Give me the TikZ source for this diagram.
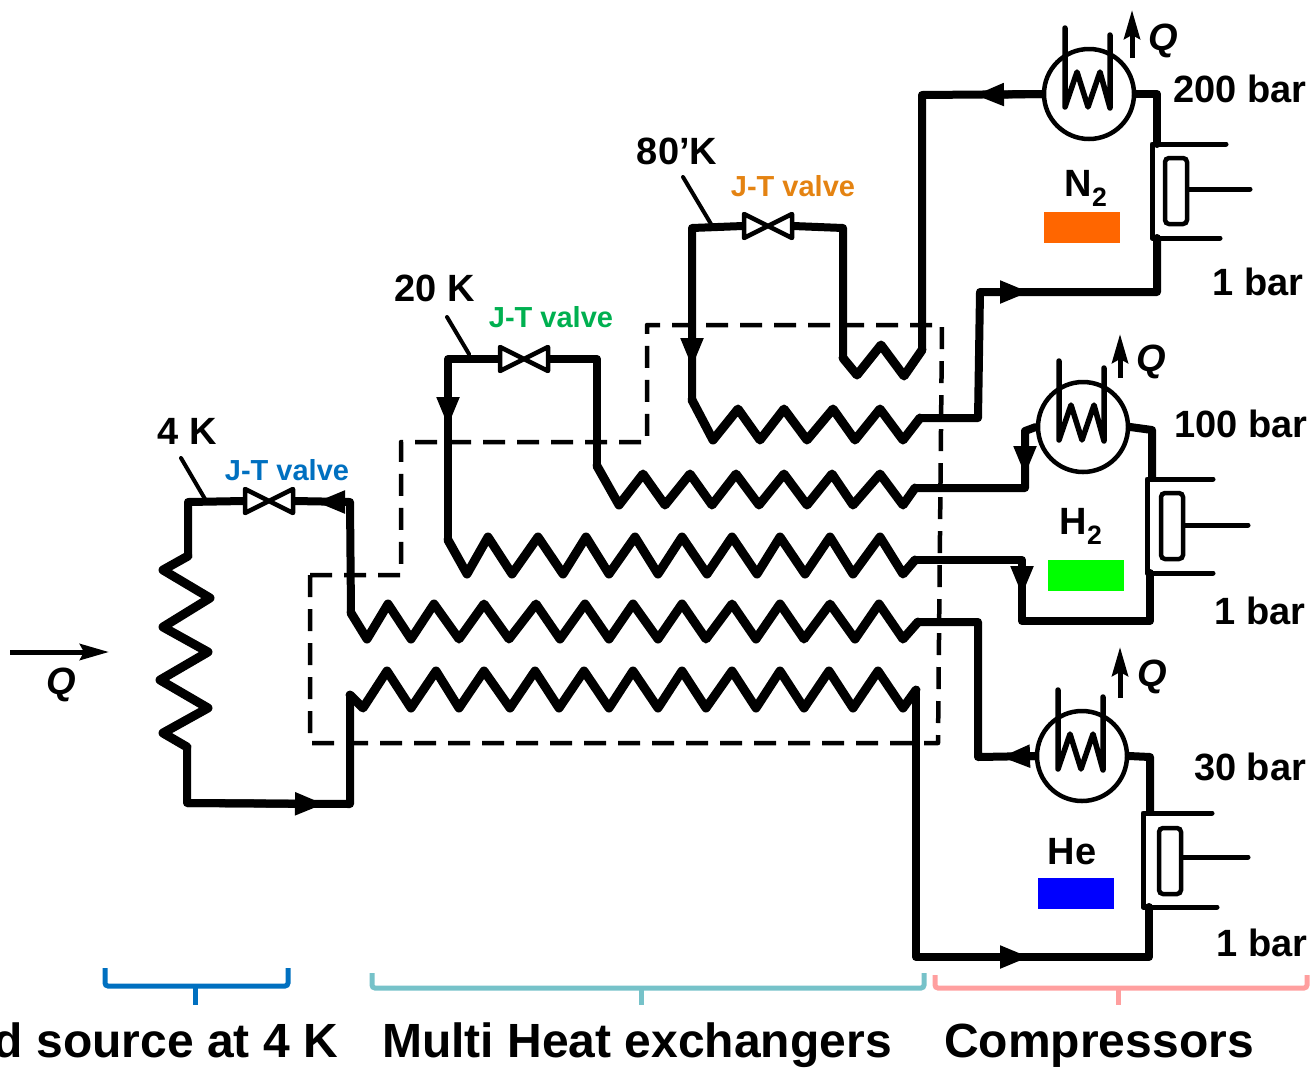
\documentclass[tikz,border=0pt]{standalone}
\usepackage{fontspec}
\setmainfont{Liberation Sans}
\usepackage{xcolor}
\usepackage{tikz}
\usetikzlibrary{arrows.meta}
\definecolor{bluejt}{HTML}{0070C0}
\definecolor{greenjt}{HTML}{00B050}
\definecolor{orangejt}{HTML}{E48312}
\definecolor{tealbr}{HTML}{76C2C9}
\definecolor{pinkbr}{HTML}{FF9F9F}
\tikzset{
  pipe/.style={line width=8pt,line join=round,line cap=round},
  coil/.style={line width=9pt,line join=round,line cap=round},
  thinpipe/.style={line width=5pt,line join=round,line cap=round},
  flowtip/.style={line width=8pt,-{Triangle[length=30pt,width=21pt]}},
  heatline/.style={line width=5pt,-{Stealth[length=29pt,width=16pt,inset=4pt]}},
  shield/.style={line width=4.5pt,dash pattern=on 22pt off 12pt,line join=round},
  leader/.style={line width=4pt,line cap=round},
  valve/.style={inner sep=0pt,minimum width=50pt,minimum height=24pt},
  cooler/.style={circle,draw,line width=4.5pt,inner sep=0pt,minimum size=90pt},
  piston/.style={draw,line width=4.5pt,rounded corners=4pt,inner sep=0pt,minimum width=22pt,minimum height=66pt},
  lbl/.style={inner sep=0pt,font=\fontsize{38}{38}\selectfont\bfseries},
  qlbl/.style={inner sep=0pt,font=\fontsize{38}{38}\selectfont\bfseries\itshape},
  jtlbl/.style={inner sep=0pt,font=\fontsize{29}{29}\selectfont\bfseries},
  footlbl/.style={inner sep=0pt,anchor=base,font=\fontsize{48}{48}\selectfont\bfseries},
  bracket/.style={line width=5pt,rounded corners=3pt},
  valvepic/.pic={\draw[line width=4.5pt,line join=round,fill=white] (-24,-12) -- (24,12) -- (24,-12) -- (-24,12) -- cycle;},
  coolcoil/.pic={\draw[line width=5.5pt,line join=round,line cap=round] (-24,-66) -- (-24,13) -- (-12,-22) -- (-1,13) -- (11,-22) -- (21,14) -- (21,-59);},
}
\begin{document}
\begin{tikzpicture}[x=1pt,y=-1pt]
    \useasboundingbox (0,0) rectangle (1311,1069);
    % Radiation Shield
    \draw[shield] (310,575) -- (310,743) -- (938,743) -- (942,325) -- (647,325) -- (647,442) -- (401,442) -- (401,575) -- cycle;
    % Valves and Coolers
    \node[valve] (v4k) at (269,501) {};
    \node[valve] (v20k) at (524,359) {};
    \node[valve] (v80k) at (768,226) {};
    \node[cooler] (cn) at (1089,94) {};
    \node[cooler] (ch) at (1083,427) {};
    \node[cooler] (che) at (1082,756) {};
    \node[piston] (pn) at (1176,191) {};
    \node[piston] (ph) at (1172,526) {};
    \node[piston] (phe) at (1170,861) {};
    % Cold Source Loop
    \coordinate (cs1) at (188,502);
    \coordinate (cs2) at (187,803);
    \coordinate (cs3) at (350,804);
    \coordinate (cstip) at (325,804);
    \coordinate (ctip4) at (315,502);
    \coordinate (c4r) at (350,502);
    \draw[pipe] (v4k.west) -- (cs1) -- (188,556);
    \draw[coil] (188,556) -- (163,570) -- (210,598) -- (163,627) -- (208,652) -- (160,680) -- (208,708) -- (163,733) -- (187,747);
    \draw[pipe] (187,747) -- (cs2) -- (cs3) -- (350,695);
    \draw[flowtip] (cs2) -- (cstip);
    \draw[coil] (350,695) -- (363,708) -- (387,671) -- (411,708) -- (436,671) -- (459,708) -- (484,671) -- (510,708) -- (535,671) -- (559,708) -- (584,671) -- (609,708) -- (633,671) -- (658,708) -- (682,671) -- (706,708) -- (732,671) -- (756,708) -- (780,671) -- (804,708) -- (829,671) -- (853,708) -- (878,671) -- (903,708) -- (916,690);
    % Helium Line
    \coordinate (hebot) at (916,957);
    \coordinate (hetip) at (1030,957);
    \coordinate (hebr) at (1149,957);
    \coordinate (heq) at (1000,757);
    \coordinate (hecr) at (978,757);
    \coordinate (hein) at (918,622);
    \coordinate (hecu) at (978,622);
    \coordinate (hectr) at (1150,757);
    \coordinate (heWt) at (1143,813);
    \coordinate (heWb) at (1143,907);
    \draw[pipe] (916,690) -- (hebot) -- (hebr) -- (1149,907);
    \draw[flowtip] (hebot) -- (hetip);
    \draw[pipe] (v4k.east) -- (c4r) -- (351,613);
    \draw[flowtip] (c4r) -- (ctip4);
    \draw[coil] (351,613) -- (367,639) -- (388,604) -- (411,639) -- (434,604) -- (459,639) -- (484,604) -- (509,639) -- (536,604) -- (560,639) -- (585,604) -- (609,639) -- (633,604) -- (658,639) -- (682,604) -- (706,639) -- (732,604) -- (756,639) -- (780,604) -- (804,639) -- (830,604) -- (855,639) -- (879,604) -- (903,639) -- (hein);
    \draw[pipe] (hein) -- (hecu) -- (hecr) -- (che.west);
    \draw[flowtip] (che.west) -- (heq);
    \draw[pipe] (che.east) -- (hectr) -- (1150,812);
    % Hydrogen Line
    \coordinate (h1) at (448,359);
    \coordinate (h1tip) at (448,427);
    \coordinate (h2) at (597,359);
    \coordinate (hlo) at (1022,560);
    \coordinate (hlotip) at (1022,596);
    \coordinate (hlb) at (1022,621);
    \coordinate (hlbr) at (1150,621);
    \coordinate (hup) at (1025,488);
    \coordinate (huptip) at (1025,476);
    \coordinate (hupt) at (1025,431);
    \coordinate (hcr) at (1152,430);
    \draw[pipe] (v20k.west) -- (h1) -- (448,540);
    \draw[flowtip] (h1) -- (h1tip);
    \draw[coil] (448,540) -- (467,574) -- (488,537) -- (512,574) -- (538,537) -- (563,574) -- (586,537) -- (609,574) -- (635,537) -- (658,574) -- (682,537) -- (707,574) -- (732,537) -- (757,574) -- (780,537) -- (805,574) -- (830,537) -- (853,574) -- (880,537) -- (903,574) -- (915,560);
    \draw[pipe] (915,560) -- (hlo) -- (hlb) -- (hlbr) -- (1150,573);
    \draw[flowtip] (hlo) -- (hlotip);
    \draw[pipe] (v20k.east) -- (h2) -- (597,466);
    \draw[coil] (597,466) -- (619,505) -- (643,474) -- (665,505) -- (690,474) -- (712,505) -- (736,474) -- (759,505) -- (784,474) -- (807,505) -- (832,474) -- (853,505) -- (880,474) -- (903,505) -- (915,488);
    \draw[pipe] (915,488) -- (hup) -- (hupt) -- (ch.west);
    \draw[flowtip] (hupt) -- (huptip);
    \draw[pipe] (ch.east) -- (hcr) -- (1152,478);
    % Nitrogen Line
    \coordinate (n1) at (692,228);
    \coordinate (n1tip) at (692,368);
    \coordinate (n2) at (843,228);
    \coordinate (n3) at (922,95);
    \coordinate (ntip) at (974,95);
    \coordinate (ncr) at (1157,94);
    \coordinate (nr1) at (978,418);
    \coordinate (nr2) at (980,292);
    \coordinate (nrtip) at (1030,292);
    \coordinate (nr3) at (1157,292);
    \draw[pipe] (v80k.west) -- (n1) -- (692,400);
    \draw[flowtip] (n1) -- (n1tip);
    \draw[coil] (692,400) -- (713,440) -- (738,409) -- (760,440) -- (784,409) -- (807,440) -- (833,409) -- (855,440) -- (880,409) -- (903,440) -- (920,418);
    \draw[pipe] (920,418) -- (nr1) -- (nr2) -- (nr3) -- (1157,238);
    \draw[flowtip] (nr2) -- (nrtip);
    \draw[pipe] (v80k.east) -- (n2) -- (843,358);
    \draw[coil] (843,358) -- (857,375) -- (881,345) -- (904,376) -- (922,350);
    \draw[pipe] (922,350) -- (n3) -- (cn.west);
    \draw[flowtip] (cn.west) -- (ntip);
    \draw[pipe] (cn.east) -- (ncr) -- (1157,144);
    % Valve and Cooler Symbols
    \pic at (v4k) {valvepic};
    \pic at (v20k) {valvepic};
    \pic at (v80k) {valvepic};
    \pic at (cn) {coolcoil};
    \pic at (ch) {coolcoil};
    \pic at (che) {coolcoil};
    % Compressors
    \coordinate (nt) at (1226,144);
    \coordinate (nb) at (1220,238);
    \coordinate (nrod) at (1250,189);
    \draw[thinpipe] (nt) -- (1152,144) -- (1152,238) -- (nb);
    \draw[thinpipe] (pn.east |- nrod) -- (nrod);
    \coordinate (ht) at (1213,479);
    \coordinate (hb) at (1213,573);
    \coordinate (hrod) at (1248,525);
    \draw[thinpipe] (ht) -- (1147,479) -- (1147,573) -- (hb);
    \draw[thinpipe] (ph.east |- hrod) -- (hrod);
    \coordinate (het) at (1212,813);
    \coordinate (heb) at (1217,907);
    \coordinate (herod) at (1248,857);
    \draw[thinpipe] (het) -- (heWt) -- (heWb) -- (heb);
    \draw[thinpipe] (phe.east |- herod) -- (herod);
    % Gas Markers
    \node[lbl] (lnn) at (1086,188) {N\textsubscript{2}};
    \node[lbl] (lhh) at (1081,526) {H\textsubscript{2}};
    \node[lbl] (lhe) at (1072,852) {He};
    \fill[fill={rgb,255:red,255;green,102;blue,0}] (1044,212) rectangle (1120,243);
    \fill[fill={rgb,255:red,0;green,255;blue,0}] (1048,560) rectangle (1124,591);
    \fill[fill={rgb,255:red,0;green,0;blue,255}] (1038,878) rectangle (1114,909);
    % Heat Flows
    \coordinate (qna) at (1132,58);
    \coordinate (qnb) at (1132,10);
    \coordinate (qha) at (1120,378);
    \coordinate (qhb) at (1120,334);
    \coordinate (qea) at (1120,698);
    \coordinate (qeb) at (1120,647);
    \coordinate (qia) at (10,652);
    \coordinate (qib) at (109,652);
    \draw[heatline] (qna) -- (qnb);
    \draw[heatline] (qha) -- (qhb);
    \draw[heatline] (qea) -- (qeb);
    \draw[heatline] (qia) -- (qib);
    \node[qlbl] (q1) at (1163,41) {Q};
    \node[qlbl] (q2) at (1151,362) {Q};
    \node[qlbl] (q3) at (1152,677) {Q};
    \node[qlbl] (q4) at (61,685) {Q};
    % Temperature Labels
    \node[lbl] (t4) at (187,431) {4 K};
    \node[lbl] (t20) at (435,288) {20 K};
    \node[lbl] (t80) at (677,151) {80'K};
    \coordinate (l4a) at (181,458);
    \coordinate (l4b) at (205,499);
    \coordinate (l20a) at (447,317);
    \coordinate (l20b) at (469,354);
    \coordinate (l80a) at (683,177);
    \coordinate (l80b) at (711,224);
    \draw[leader] (l4a) -- (l4b);
    \draw[leader] (l20a) -- (l20b);
    \draw[leader] (l80a) -- (l80b);
    \node[jtlbl,text=bluejt] (j4) at (287,470) {J-T valve};
    \node[jtlbl,text=greenjt] (j20) at (551,317) {J-T valve};
    \node[jtlbl,text=orangejt] (j80) at (793,186) {J-T valve};
    % Pressure Labels
    \node[lbl] (b200) at (1240,89) {200 bar};
    \node[lbl] (b1a) at (1258,282) {1 bar};
    \node[lbl] (b100) at (1241,424) {100 bar};
    \node[lbl] (b1b) at (1260,611) {1 bar};
    \node[lbl] (b30) at (1250,767) {30 bar};
    \node[lbl] (b1c) at (1262,943) {1 bar};
    % Brackets and Captions
    \draw[bracket,bluejt] (105,968) -- (105,986) -- (288,986) -- (288,968);
    \draw[bracket,bluejt] (195,986) -- (195,1005);
    \draw[bracket,tealbr] (372,973) -- (372,988) -- (924,988) -- (924,973);
    \draw[bracket,tealbr] (641,988) -- (641,1005);
    \draw[bracket,pinkbr] (935,975) -- (935,988) -- (1307,988) -- (1307,975);
    \draw[bracket,pinkbr] (1118,988) -- (1118,1005);
    \node[footlbl,anchor=base east] (f1) at (338,1057) {d source at 4 K};
    \node[footlbl] (f2) at (637,1057) {Multi Heat exchangers};
    \node[footlbl] (f3) at (1099,1057) {Compressors};
\end{tikzpicture}
\end{document}
